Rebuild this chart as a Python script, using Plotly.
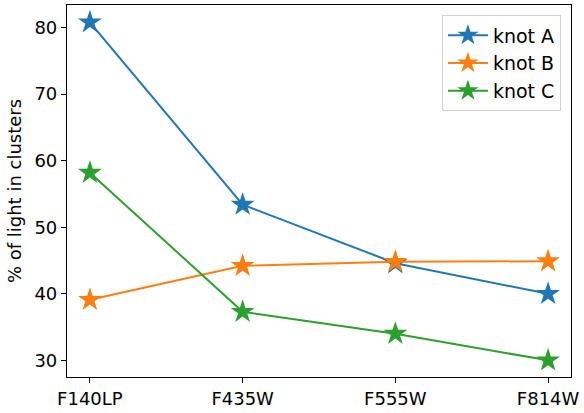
import plotly.graph_objects as go

filters = ["F140LP", "F435W", "F555W", "F814W"]
knot_a = [80.8, 53.4, 44.6, 40.0]
knot_b = [39.1, 44.2, 44.8, 44.9]
knot_c = [58.2, 37.3, 34.0, 30.0]

series = [
    ("knot A", knot_a, "#1f77b4"),
    ("knot B", knot_b, "#ff7f0e"),
    ("knot C", knot_c, "#2ca02c"),
]

font = dict(family="DejaVu Sans", size=18, color="black")

fig = go.Figure()
for name, vals, color in series:
    fig.add_trace(go.Scatter(
        x=list(range(len(filters))), y=vals, name=name,
        mode="lines+markers",
        line=dict(color=color, width=2),
        marker=dict(symbol="star", size=18, color=color, line=dict(width=0)),
    ))

axis_common = dict(
    showline=True, linecolor="black", linewidth=1.2, mirror=True,
    ticks="outside", ticklen=5, tickwidth=1.2, tickcolor="black",
    showgrid=False, zeroline=False, tickfont=font,
)

fig.update_layout(
    width=584, height=413,
    margin=dict(l=67, r=12, t=4, b=34),
    plot_bgcolor="white", paper_bgcolor="white",
    font=font,
    showlegend=True,
    hovermode=False,
    xaxis=dict(range=[-0.15, 3.15], tickmode="array",
               tickvals=list(range(len(filters))), ticktext=filters,
               **axis_common),
    yaxis=dict(range=[27.5, 83.4], tickvals=[30, 40, 50, 60, 70, 80],
               title=dict(text="% of light in clusters", font=font, standoff=8),
               **axis_common),
    legend=dict(x=0.98, y=0.972, xanchor="right", yanchor="top",
                bgcolor="white", bordercolor="#d0d0d0", borderwidth=1,
                font=dict(family="DejaVu Sans", size=19, color="black"),
                tracegroupgap=0, itemwidth=40),
)

fig.write_html("out.html")
